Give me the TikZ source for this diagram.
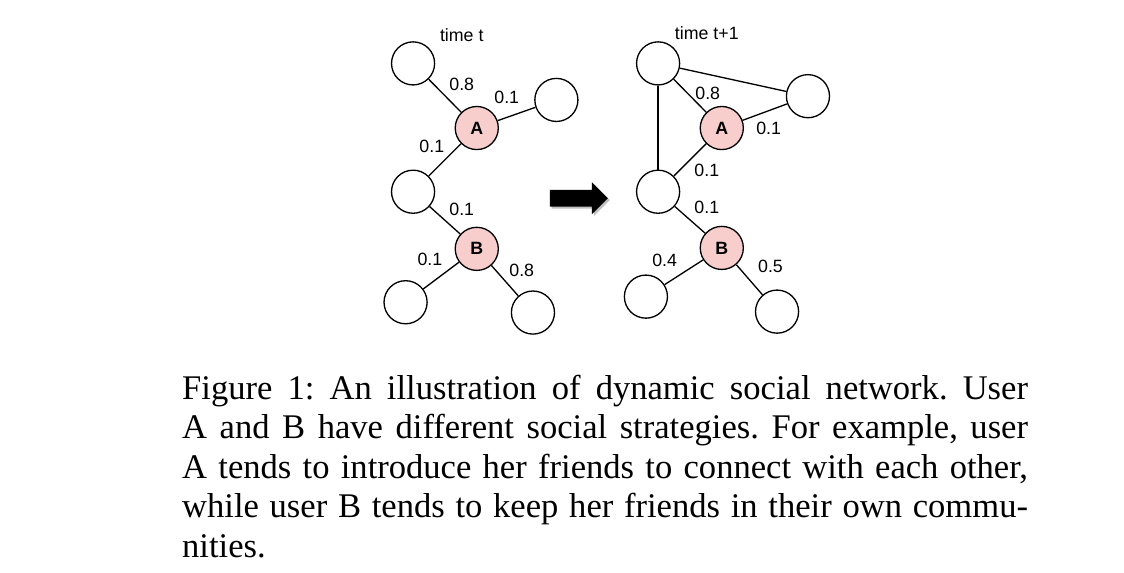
\documentclass[tikz,border=0pt]{standalone}
\usepackage{fontspec}
\setmainfont{Liberation Serif}
\setsansfont{Liberation Sans}
\usepackage{tikz}
\usetikzlibrary{calc, positioning}
\definecolor{pinkfill}{HTML}{F8CECC}

\begin{document}
\begin{tikzpicture}[
  user/.style={circle, draw, minimum size=0.46cm, inner sep=0pt},
  seed/.style={user, fill=pinkfill, font=\sffamily\bfseries\fontsize{5.4}{6}\selectfont},
  wt/.style={inner sep=0pt, font=\sffamily\fontsize{5.4}{6}\selectfont}]
\useasboundingbox (0,0) rectangle (12,6.107);
\begin{scope}
\node[user](U1) at (4.41,5.43){};
\node[seed](A) at (5.09,4.74){A};
\node[user](U2) at (5.94,5.04){};
\node[user](U3) at (4.41,4.06){};
\node[seed](B) at (5.09,3.45){B};
\node[user](U4) at (4.33,2.88){};
\node[user](U5) at (5.69,2.77){};
\draw(U1)--(A);
\draw(A)--(U2);
\draw(A)--(U3);
\draw(U3)--(B);
\draw(B)--(U4);
\draw(B)--(U5);

\node[wt](T) at (4.93,5.73){time t};
\node[wt](w1) at (4.93,5.21){0.8};
\node[wt](w2) at (5.41,5.07){0.1};
\node[wt](w3) at (4.61,4.54){0.1};
\node[wt](w4) at (4.93,3.87){0.1};
\node[wt](w5) at (4.59,3.34){0.1};
\node[wt](w6) at (5.57,3.22){0.8};
\end{scope}

% arrow between the two time steps
\fill[black!25, shift={(0.02,-0.02)}] (5.87,4.08)--(6.32,4.08)--(6.32,4.16)--(6.49,3.99)--(6.32,3.82)--(6.32,3.90)--(5.87,3.90)--cycle;
\fill (5.87,4.08)--(6.32,4.08)--(6.32,4.16)--(6.49,3.99)--(6.32,3.82)--(6.32,3.90)--(5.87,3.90)--cycle;

\begin{scope}[xshift=2.616cm]
\node[user](U1) at (4.41,5.43){};
\node[seed](A) at (5.09,4.74){A};
\node[user](U2) at (6.01,5.08){};
\node[user](U3) at (4.41,4.06){};
\node[seed](B) at (5.09,3.46){B};
\node[user](U4) at (4.28,2.94){};
\node[user](U5) at (5.68,2.78){};
\draw(U1)--(U2);
\draw(U1)--(U3);
\draw(U1)--(A);
\draw(A)--(U2);
\draw(A)--(U3);
\draw(U3)--(B);
\draw(B)--(U4);
\draw(B)--(U5);

\node[wt](T) at (4.93,5.75){time t+1};
\node[wt](w1) at (4.94,5.11){0.8};
\node[wt](w2) at (5.59,4.74){0.1};
\node[wt](w3) at (4.93,4.29){0.1};
\node[wt](w4) at (4.93,3.89){0.1};
\node[wt](w5) at (4.48,3.33){0.4};
\node[wt](w6) at (5.61,3.26){0.5};
\end{scope}

\node[text width=9.03cm, align=justify, inner sep=0pt, font=\frenchspacing\fontsize{10.5}{12}\selectfont](cap) at (6.46,1.13){Figure 1: An illustration of dynamic social network. User\linebreak A and B have different social strategies. For example, user\linebreak A tends to introduce her friends to connect with each other,\linebreak while user B tends to keep her friends in their own commu-\linebreak nities.};
\end{tikzpicture}
\end{document}
